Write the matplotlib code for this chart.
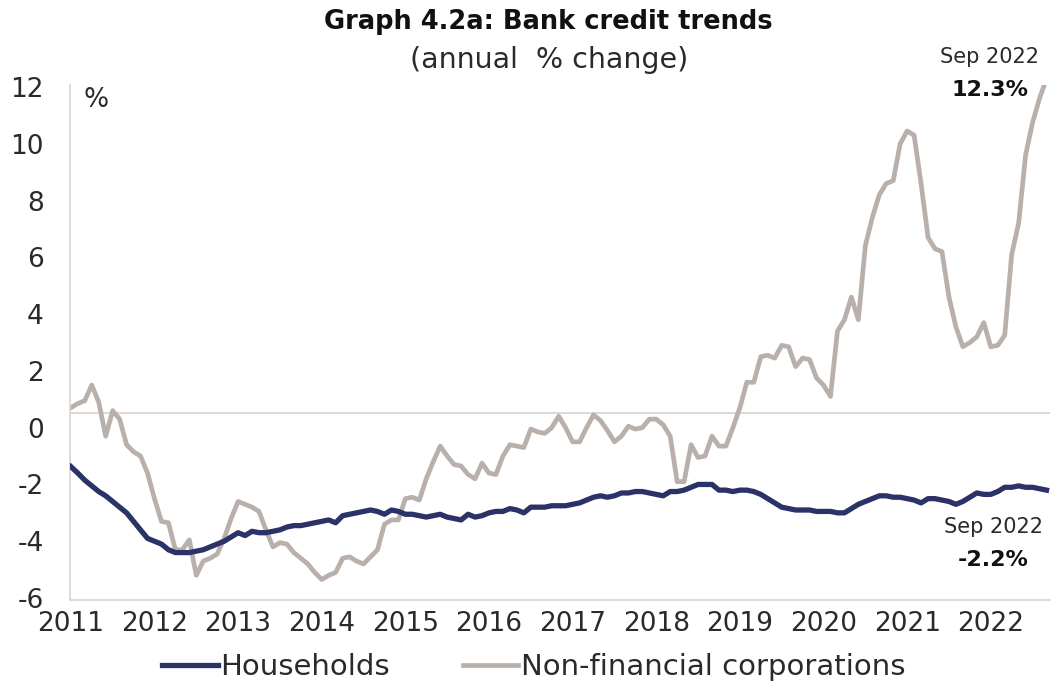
import matplotlib
matplotlib.use("Agg")
import matplotlib.pyplot as plt
import numpy as np

# Monthly data, Jan 2011 .. Sep 2022 (annual % change)
start_year = 2011
households = [
    -1.37, -1.6, -1.85, -2.05, -2.25, -2.4, -2.6, -2.8, -3.0, -3.3, -3.6, -3.9,
    -4.0, -4.1, -4.3, -4.4, -4.4, -4.4, -4.35, -4.3, -4.2, -4.1, -4.0, -3.85,
    -3.7, -3.8, -3.65, -3.7, -3.7, -3.65, -3.6, -3.5, -3.45, -3.45, -3.4, -3.35,
    -3.3, -3.25, -3.35, -3.1, -3.05, -3.0, -2.95, -2.9, -2.95, -3.05, -2.9, -2.95,
    -3.05, -3.05, -3.1, -3.15, -3.1, -3.05, -3.15, -3.2, -3.25, -3.05, -3.15, -3.1,
    -3.0, -2.95, -2.95, -2.85, -2.9, -3.0, -2.8, -2.8, -2.8, -2.75, -2.75, -2.75,
    -2.7, -2.65, -2.55, -2.45, -2.4, -2.45, -2.4, -2.3, -2.3, -2.25, -2.25, -2.3,
    -2.35, -2.4, -2.25, -2.25, -2.2, -2.1, -2.0, -2.0, -2.0, -2.2, -2.2, -2.25,
    -2.2, -2.2, -2.25, -2.35, -2.5, -2.65, -2.8, -2.85, -2.9, -2.9, -2.9, -2.95,
    -2.95, -2.95, -3.0, -3.0, -2.85, -2.7, -2.6, -2.5, -2.4, -2.4, -2.45, -2.45,
    -2.5, -2.55, -2.65, -2.5, -2.5, -2.55, -2.6, -2.7, -2.6, -2.45, -2.3, -2.35,
    -2.35, -2.25, -2.1, -2.1, -2.05, -2.1, -2.1, -2.15, -2.2,
]
nfc = [
    0.7, 0.85, 0.95, 1.5, 0.9, -0.3, 0.6, 0.3, -0.6, -0.85, -1.0, -1.6,
    -2.5, -3.3, -3.35, -4.3, -4.3, -3.95, -5.2, -4.7, -4.6, -4.45, -3.9, -3.2,
    -2.6, -2.7, -2.8, -2.95, -3.6, -4.2, -4.05, -4.1, -4.4, -4.6, -4.8, -5.1,
    -5.35, -5.2, -5.1, -4.6, -4.55, -4.7, -4.8, -4.55, -4.3, -3.4, -3.25, -3.25,
    -2.5, -2.45, -2.55, -1.8, -1.2, -0.65, -1.0, -1.3, -1.35, -1.65, -1.8, -1.25,
    -1.6, -1.65, -1.0, -0.6, -0.65, -0.7, -0.05, -0.15, -0.2, 0.0, 0.4, 0.0,
    -0.5, -0.5, 0.0, 0.45, 0.25, -0.1, -0.5, -0.3, 0.05, -0.05, 0.0, 0.3,
    0.3, 0.1, -0.3, -1.9, -1.9, -0.6, -1.05, -1.0, -0.3, -0.65, -0.65, 0.0,
    0.7, 1.6, 1.6, 2.5, 2.55, 2.45, 2.9, 2.85, 2.15, 2.45, 2.4, 1.75,
    1.5, 1.1, 3.4, 3.8, 4.6, 3.8, 6.4, 7.4, 8.2, 8.6, 8.7, 10.0,
    10.45, 10.3, 8.6, 6.7, 6.3, 6.2, 4.6, 3.55, 2.85, 3.0, 3.2, 3.7,
    2.85, 2.9, 3.25, 6.1, 7.2, 9.6, 10.75, 11.6, 12.3,
]
years = list(range(2011, 2023))
yticks = [-6, -4, -2, 0, 2, 4, 6, 8, 10, 12]
ref_line = 0.53  # horizontal reference line as drawn in the source

x = start_year + np.arange(len(nfc)) / 12.0

plt.rcParams['font.family'] = ['DejaVu Sans']
fig = plt.figure(figsize=(10.54, 6.93), dpi=100)
W, H = 1054, 693
ax = fig.add_axes([70 / W, (H - 600) / H, (1050 - 70) / W, (600 - 85) / H])

hh_col = '#2B3267'
nfc_col = '#B9B0AB'
txt_col = '#2A2A2A'

ax.axhline(ref_line, color='#D8D2CA', lw=1.2, zorder=1)
ax.plot(x, nfc, color=nfc_col, lw=3.4, solid_joinstyle='round', zorder=2,
        label='Non-financial corporations')
ax.plot(x, households, color=hh_col, lw=3.8, solid_joinstyle='round', zorder=3,
        label='Households')

ax.set_ylim(-6.07, 12.07)
ax.set_xlim(2011.0 - 0.01, 2011 + 140.5 / 12)
ax.set_yticks(yticks)
ax.set_yticklabels([str(v) for v in yticks])
ax.set_xticks(years)
ax.set_xticklabels([str(y) for y in years])
ax.tick_params(axis='both', length=0, labelsize=19, colors=txt_col)
ax.tick_params(axis='y', pad=19)
ax.tick_params(axis='x', pad=8)

for s in ['top', 'right']:
    ax.spines[s].set_visible(False)
for s in ['left', 'bottom']:
    ax.spines[s].set_color('#D9D9D9')
    ax.spines[s].set_linewidth(1.3)

fig.text(96 / W, 1 - 100 / H, '%', fontsize=19, va='center', ha='center',
         color=txt_col)

fig.text(548 / W, 1 - 22 / H, 'Graph 4.2a: Bank credit trends', ha='center',
         va='center', fontsize=18.5, fontweight='bold', color='#111111')
fig.text(549 / W, 1 - 60 / H, '(annual  % change)', ha='center',
         va='center', fontsize=20.5, color=txt_col)

fig.text(990 / W, 1 - 57 / H, 'Sep 2022', ha='center', va='center',
         fontsize=15, color=txt_col)
fig.text(990 / W, 1 - 90 / H, '12.3%', ha='center', va='center',
         fontsize=16, fontweight='bold', color='#111111')
fig.text(993 / W, 1 - 527 / H, 'Sep 2022', ha='center', va='center',
         fontsize=15, color=txt_col)
fig.text(993 / W, 1 - 560 / H, '-2.2%', ha='center', va='center',
         fontsize=16, fontweight='bold', color='#111111')

handles, labels = ax.get_legend_handles_labels()
order = [1, 0]
fig.legend([handles[i] for i in order], [labels[i] for i in order],
           loc='center', bbox_to_anchor=(534 / W, 1 - 667 / H), ncol=2,
           frameon=False, fontsize=21, handlelength=1.9, handletextpad=0.1,
           columnspacing=2.5, labelcolor=txt_col)

fig.savefig('out.png', dpi=100)
